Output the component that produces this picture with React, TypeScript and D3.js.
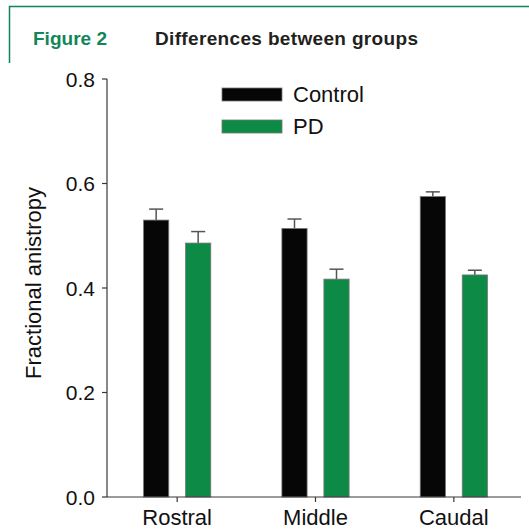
import React from 'react';
import * as d3 from 'd3';

// data
const regions = ['Rostral', 'Middle', 'Caudal'];
const groups = ['Control', 'PD'];
const controlMean = [0.530, 0.514, 0.575];
const controlErr = [0.021, 0.018, 0.009];
const pdMean = [0.486, 0.417, 0.425];
const pdErr = [0.022, 0.019, 0.009];
const yTicks = [0, 0.2, 0.4, 0.6, 0.8];

const colors: Record<string, string> = { Control: '#060606', PD: '#0d8a46' };
const green = '#12855a';
const axisColor = '#3b3636';
const font = '"Liberation Sans", Arial, sans-serif';

const W = 529, H = 529;

const x = d3.scaleBand().domain(regions).range([108, 523]);
const inner = d3.scaleBand().domain(groups).range([-46, 46]).paddingInner(0.4).paddingOuter(0.295);
const y = d3.scaleLinear().domain([0, 0.8]).range([497, 79]);

const rows = regions.map((r, i) => ({
  region: r,
  bars: [
    { group: 'Control', mean: controlMean[i], err: controlErr[i] },
    { group: 'PD', mean: pdMean[i], err: pdErr[i] },
  ],
}));

export default function App() {
  const x0 = 107;
  return (
    <svg width={W} height={H} style={{ position: 'absolute', left: 0, top: 0, background: '#fff' }}>
      {/* header frame */}
      <path d={`M9.5,63 L9.5,6.5 L529,6.5`} fill="none" stroke={green} strokeWidth={1.5} />
      <text x={33} y={45} fontFamily={font} fontWeight={700} fontSize={19} fill={green}
        textLength={74} lengthAdjust="spacing">Figure 2</text>
      <text x={155} y={45} fontFamily={font} fontWeight={700} fontSize={19} fill="#231f20"
        textLength={263} lengthAdjust="spacing">Differences between groups</text>

      {/* bars */}
      {rows.map((row) => (
        <g key={row.region} transform={`translate(${x(row.region)! + x.bandwidth() / 2},0)`}>
          {row.bars.map((b) => {
            const bx = inner(b.group)!;
            const bw = inner.bandwidth();
            const cx = bx + bw / 2;
            return (
              <g key={b.group}>
                <line x1={cx} x2={cx} y1={y(b.mean)} y2={y(b.mean + b.err)} stroke="#555" strokeWidth={1.5} />
                <line x1={cx - 7} x2={cx + 7} y1={y(b.mean + b.err)} y2={y(b.mean + b.err)} stroke="#555" strokeWidth={1.5} />
                <rect x={bx} y={y(b.mean)} width={bw} height={y(0) - y(b.mean)}
                  fill={colors[b.group]} stroke="#777" strokeWidth={0.8} />
              </g>
            );
          })}
        </g>
      ))}

      {/* y axis */}
      <line x1={x0} x2={x0} y1={y(0.8)} y2={y(0)} stroke={axisColor} strokeWidth={1.2} />
      {yTicks.map((t) => (
        <g key={t}>
          <line x1={x0 - 5} x2={x0} y1={y(t)} y2={y(t)} stroke={axisColor} strokeWidth={1.2} />
          <text x={95} y={y(t)} dy="0.36em" textAnchor="end" fontFamily={font} fontSize={21} fill="#111">
            {d3.format('.1f')(t)}
          </text>
        </g>
      ))}
      <text transform={`translate(41,283) rotate(-90)`} textAnchor="middle" fontFamily={font} fontSize={22} fill="#111">
        Fractional anistropy
      </text>

      {/* x axis */}
      <line x1={x0} x2={521} y1={y(0)} y2={y(0)} stroke={axisColor} strokeWidth={1.2} />
      {regions.map((r) => {
        const cx = x(r)! + x.bandwidth() / 2;
        return (
          <g key={r}>
            <line x1={cx} x2={cx} y1={y(0)} y2={y(0) + 5} stroke={axisColor} strokeWidth={1.2} />
            <text x={cx} y={525} textAnchor="middle" fontFamily={font} fontSize={22} fill="#111">{r}</text>
          </g>
        );
      })}

      {/* legend */}
      {groups.map((g, i) => (
        <g key={g} transform={`translate(222,${88 + i * 32})`}>
          <rect x={0} y={0} width={60} height={13} fill={colors[g]} stroke="#777" strokeWidth={0.8} />
          <text x={71} y={6.5} dy="0.36em" fontFamily={font} fontSize={22} fill="#111">{g}</text>
        </g>
      ))}
    </svg>
  );
}
